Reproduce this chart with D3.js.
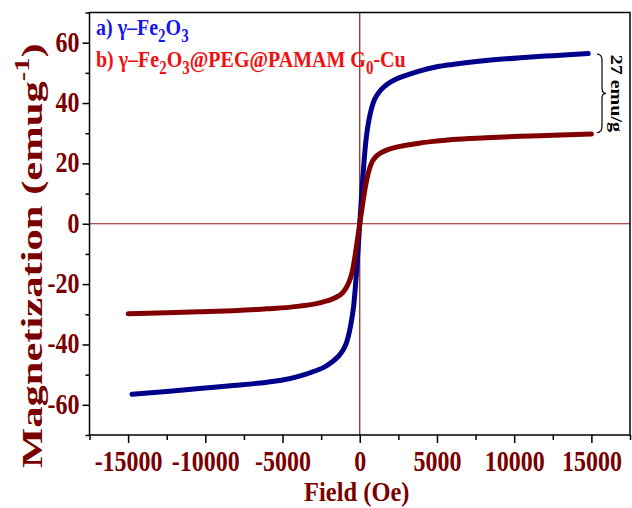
<!DOCTYPE html>
<html>
<head>
<meta charset="utf-8">
<script src="https://cdn.jsdelivr.net/npm/d3@7"></script>
<style>
  body { margin: 0; background: #fff; }
  text { font-family: "Liberation Serif", "Times New Roman", serif; font-weight: bold; }
</style>
</head>
<body>
<script>
// Chart size
const width = 632;
const height = 508;

// Data (Field in Oe, Magnetization in emu/g)
const fieldBlue = [-14750, -12500, -10400, -8200, -6000, -5000, -3900, -2900, -2300, -1800, -1400, -1100, -900, -750, -600, -500, -400, -300, -200, -100, 0,
  100, 200, 300, 400, 500, 600, 750, 900, 1100, 1400, 1800, 2300, 2900, 3850, 5000, 6000, 8180, 10370, 12510, 14800];
const magBlue = [-56.5, -55.6, -54.6, -53.6, -52.5, -51.8, -50.5, -48.8, -47.5, -45.8, -44, -42, -40, -37.5, -34, -31, -27.5, -22, -15.5, -8, 0,
  8, 15.5, 22, 27.5, 31.5, 34.5, 38, 40.5, 42.5, 44.5, 46.3, 47.8, 49, 50.6, 52, 52.8, 54.1, 55, 55.7, 56.4];

const fieldRed = [-15000, -12500, -10400, -8200, -6000, -3900, -2600, -1700, -1100, -800, -600, -450, -300, -200, -100, 0,
  100, 200, 300, 450, 600, 800, 1000, 1300, 1700, 2300, 3000, 3850, 5000, 6000, 8180, 10370, 12510, 15000];
const magRed = [-29.8, -29.5, -29.2, -28.8, -28.2, -27.3, -26.2, -24.8, -22.8, -20.5, -18, -15, -10.5, -7, -3.5, 0,
  3.5, 7, 10.3, 14.5, 17.7, 20.5, 22, 23.3, 24.3, 25.3, 26, 26.7, 27.4, 27.9, 28.5, 29, 29.3, 29.7];

const xTicks = [-15000, -10000, -5000, 0, 5000, 10000, 15000];
const yTicks = [-60, -40, -20, 0, 20, 40, 60];

// Plot frame
const plotLeft = 89.5, plotRight = 630, plotTop = 12.5, plotBottom = 435;
const labelColor = "#7a0000";
const stretch = 1.2; // the picture's text looks a bit taller than normal

const svg = d3.select("body")
  .append("svg")
  .attr("width", width)
  .attr("height", height);

const x = d3.scaleLinear().domain([-17500, 17500]).range([plotLeft, plotRight]);
const y = d3.scaleLinear().domain([-70, 70]).range([plotBottom, plotTop]);

// Zero lines
svg.append("line")
  .attr("x1", x(0)).attr("x2", x(0))
  .attr("y1", plotTop).attr("y2", plotBottom)
  .attr("stroke", "#8b1a1a").attr("stroke-width", 1.2);
svg.append("line")
  .attr("x1", plotLeft).attr("x2", plotRight)
  .attr("y1", y(0)).attr("y2", y(0))
  .attr("stroke", "#8b1a1a").attr("stroke-width", 1.2);

// Curves
const line = d3.line()
  .x(d => x(d[0]))
  .y(d => y(d[1]))
  .curve(d3.curveMonotoneX);

svg.append("path")
  .datum(fieldBlue.map((f, i) => [f, magBlue[i]]))
  .attr("d", line)
  .attr("fill", "none")
  .attr("stroke", "#00008b")
  .attr("stroke-width", 5)
  .attr("stroke-linecap", "round")
  .attr("stroke-linejoin", "round");

svg.append("path")
  .datum(fieldRed.map((f, i) => [f, magRed[i]]))
  .attr("d", line)
  .attr("fill", "none")
  .attr("stroke", "#800000")
  .attr("stroke-width", 5)
  .attr("stroke-linecap", "round")
  .attr("stroke-linejoin", "round");

// Minor ticks
const xMinor = svg.append("g")
  .attr("transform", `translate(0,${plotBottom})`)
  .call(d3.axisBottom(x).tickValues(d3.range(-17500, 17501, 5000)).tickSize(5).tickFormat(""));
xMinor.select(".domain").remove();
xMinor.selectAll("line").attr("stroke", "#000").attr("stroke-width", 1.5);

const yMinor = svg.append("g")
  .attr("transform", `translate(${plotLeft},0)`)
  .call(d3.axisLeft(y).tickValues(d3.range(-70, 71, 20)).tickSize(4).tickFormat(""));
yMinor.select(".domain").remove();
yMinor.selectAll("line").attr("stroke", "#000").attr("stroke-width", 1.5);

// Major axes
const xAxis = svg.append("g")
  .attr("transform", `translate(0,${plotBottom})`)
  .call(d3.axisBottom(x).tickValues(xTicks).tickSize(8).tickSizeOuter(0));
xAxis.select(".domain").remove();
xAxis.selectAll("line").attr("stroke", "#000").attr("stroke-width", 1.5);
xAxis.selectAll("text")
  .attr("y", 0).attr("dy", null)
  .attr("transform", `translate(0,36) scale(1,${stretch})`)
  .attr("fill", labelColor)
  .style("font-size", "24px")
  .text(d => String(d));

const yAxis = svg.append("g")
  .attr("transform", `translate(${plotLeft},0)`)
  .call(d3.axisLeft(y).tickValues(yTicks).tickSize(7).tickSizeOuter(0));
yAxis.select(".domain").remove();
yAxis.selectAll("line").attr("stroke", "#000").attr("stroke-width", 1.5);
yAxis.selectAll("text")
  .attr("x", 0).attr("dy", null)
  .attr("transform", `translate(-10,8.5) scale(1,${stretch})`)
  .attr("fill", labelColor)
  .style("font-size", "24px")
  .text(d => String(d));

// Frame
svg.append("rect")
  .attr("x", plotLeft).attr("y", plotTop)
  .attr("width", plotRight - plotLeft).attr("height", plotBottom - plotTop)
  .attr("fill", "none")
  .attr("stroke", "#000")
  .attr("stroke-width", 1.5);

// Axis titles
svg.append("text")
  .attr("transform", `translate(${(plotLeft + plotRight) / 2 - 3},501) scale(1,1.15)`)
  .attr("text-anchor", "middle")
  .attr("fill", labelColor)
  .style("font-size", "24.5px")
  .text("Field (Oe)");

const yTitle = svg.append("text")
  .attr("transform", `translate(42,468) rotate(-90) scale(1.42,1)`)
  .attr("text-anchor", "start")
  .attr("fill", labelColor)
  .style("font-size", "30px");
yTitle.append("tspan").text("Magnetization (emug");
yTitle.append("tspan").attr("dy", -13).style("font-size", "20px").text("-1");
yTitle.append("tspan").attr("dy", 13).text(")");

// Legend
function legendLine(yPos, color, parts) {
  const t = svg.append("text")
    .attr("transform", `translate(96,${yPos}) scale(1,${stretch})`)
    .attr("fill", color)
    .style("font-size", "20px");
  let shift = 0;
  parts.forEach(p => {
    const want = p.sub ? 6 : 0;
    t.append("tspan")
      .attr("dy", want - shift)
      .style("font-size", p.sub ? "15px" : "20px")
      .text(p.t);
    shift = want;
  });
}
legendLine(35, "#1515f0", [
  { t: "a) γ–Fe" }, { t: "2", sub: true }, { t: "O" }, { t: "3", sub: true }
]);
legendLine(67, "#f01010", [
  { t: "b) γ–Fe" }, { t: "2", sub: true }, { t: "O" }, { t: "3", sub: true },
  { t: "@PEG@PAMAM G" }, { t: "0", sub: true }, { t: "-Cu" }
]);

// Difference annotation: brace and label
const braceTop = y(magBlue[magBlue.length - 1]) + 0.5;
const braceBot = y(magRed[magRed.length - 1]) - 1.5;
const braceMid = (braceTop + braceBot) / 2;
const bx = 597;
svg.append("path")
  .attr("d", `M${bx},${braceTop} Q${bx + 5},${braceTop} ${bx + 5},${braceTop + 6}
    L${bx + 5},${braceMid - 5} Q${bx + 5},${braceMid} ${bx + 9},${braceMid}
    Q${bx + 5},${braceMid} ${bx + 5},${braceMid + 5}
    L${bx + 5},${braceBot - 6} Q${bx + 5},${braceBot} ${bx},${braceBot}`)
  .attr("fill", "none")
  .attr("stroke", "#000")
  .attr("stroke-width", 1.2);

svg.append("text")
  .attr("transform", `translate(611,${braceMid}) rotate(90) scale(1.25,1)`)
  .attr("text-anchor", "middle")
  .attr("fill", "#000")
  .style("font-size", "16px")
  .text("27 emu/g");
</script>
</body>
</html>
